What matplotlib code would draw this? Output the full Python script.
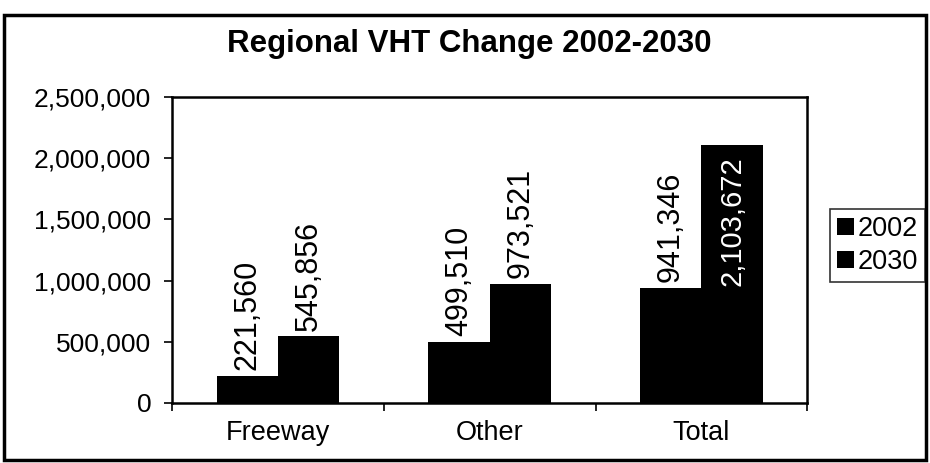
import numpy as np
import matplotlib
matplotlib.use("Agg")
import matplotlib.pyplot as plt
from matplotlib.patches import Rectangle
from matplotlib.ticker import FuncFormatter

# Data:
categories = ["Freeway", "Other", "Total"]
vht_2002 = [221560, 499510, 941346]
vht_2030 = [545856, 973521, 2103672]
series_names = ["2002", "2030"]

plt.rcParams["font.family"] = ["Liberation Sans", "DejaVu Sans"]

fig = plt.figure(figsize=(9.3, 4.63), dpi=100)
ax = fig.add_axes([0.185, 0.1296, 0.683, 0.661])

x = np.arange(len(categories))
width = 0.29
bars_2002 = ax.bar(x - width / 2, vht_2002, width, color="black", label=series_names[0])
bars_2030 = ax.bar(x + width / 2, vht_2030, width, color="black", label=series_names[1])

ax.set_xlim(-0.5, len(categories) - 0.5)
ax.set_ylim(0, 2500000)

# Data labels:
ymax = ax.get_ylim()[1]
for bars in (bars_2002, bars_2030):
    for bar in bars:
        value = bar.get_height()
        xc = bar.get_x() + bar.get_width() / 2
        label = f"{value:,.0f}"
        if value > 0.78 * ymax:
            ax.annotate(label, (xc, value), xytext=(0, -8), textcoords="offset points",
                        rotation=90, ha="center", va="top", fontsize=21, color="white")
        else:
            ax.annotate(label, (xc, value), xytext=(0, 4), textcoords="offset points",
                        rotation=90, ha="center", va="bottom", fontsize=22, color="black")

# Axes styling:
ax.set_yticks(np.arange(0, 2500001, 500000))
ax.yaxis.set_major_formatter(FuncFormatter(lambda v, p: f"{v:,.0f}"))
ax.tick_params(axis="y", direction="out", length=6, width=1.2, labelsize=19, pad=9)

ax.set_xticks(x)
ax.set_xticklabels(categories)
ax.set_xticks(np.arange(-0.5, len(categories)), minor=True)
ax.tick_params(axis="x", which="major", length=0, labelsize=19.5, pad=12)
ax.tick_params(axis="x", which="minor", direction="out", length=6, width=1.2)

for spine in ax.spines.values():
    spine.set_linewidth(1.8)
    spine.set_color("black")

fig.text(0.505, 0.905, "Regional VHT Change 2002-2030", ha="center", va="center",
         fontsize=22.5, fontweight="bold")

leg = fig.legend(handles=[bars_2002, bars_2030], loc="upper left",
                 bbox_to_anchor=(0.893, 0.548), fontsize=19.5, frameon=True, fancybox=False,
                 handlelength=0.6, handleheight=0.6, handletextpad=0.15,
                 borderpad=0.25, labelspacing=0.25, borderaxespad=0)
leg.get_frame().set_edgecolor("black")
leg.get_frame().set_linewidth(1.2)

# Outer chart frame:
fig.patches.append(Rectangle((0.004, 0.006), 0.992, 0.962, transform=fig.transFigure,
                             fill=False, edgecolor="black", linewidth=2.5))

fig.savefig("out.png", dpi=100)
